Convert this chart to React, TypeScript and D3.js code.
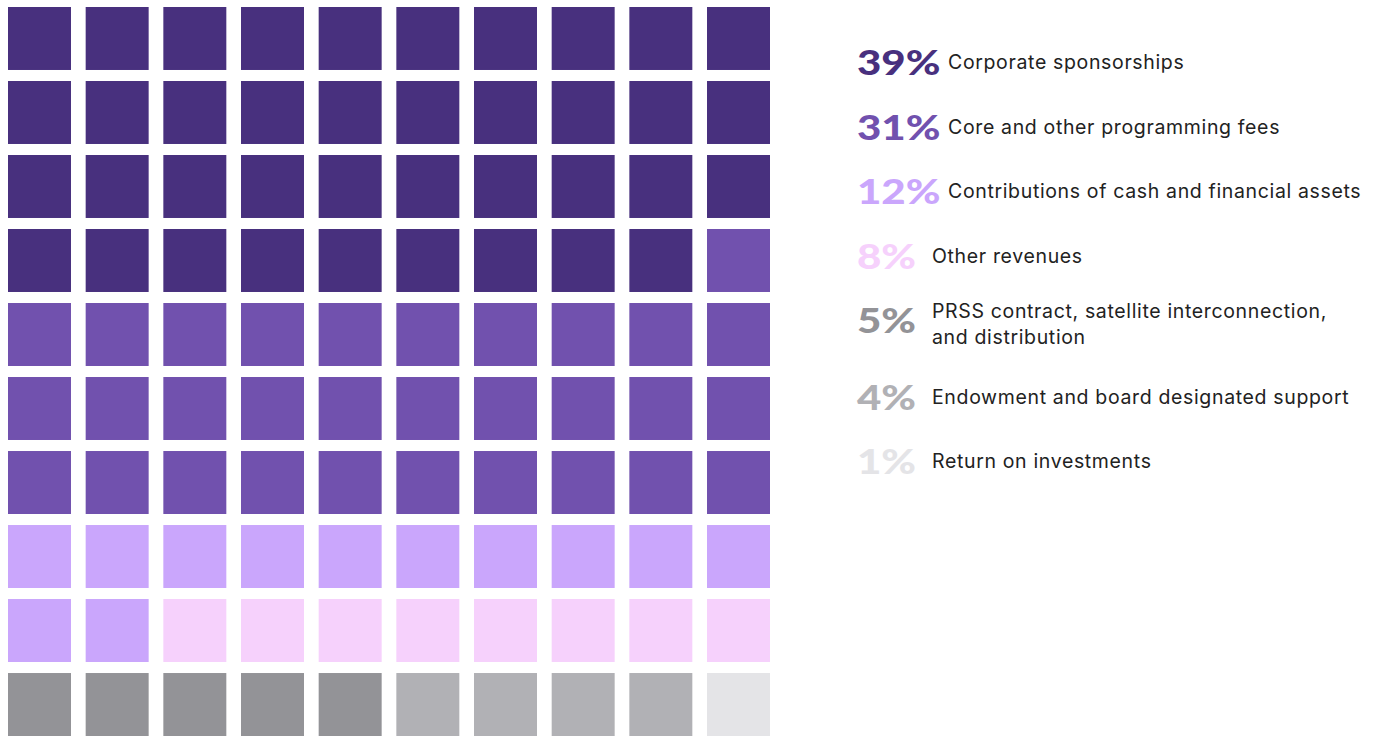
import React from "react";
import * as d3 from "d3";

const categories = [
  "Corporate sponsorships",
  "Core and other programming fees",
  "Contributions of cash and financial assets",
  "Other revenues",
  "PRSS contract, satellite interconnection, and distribution",
  "Endowment and board designated support",
  "Return on investments",
];
const values = [39, 31, 12, 8, 5, 4, 1];
const labelLines = [
  ["Corporate sponsorships"],
  ["Core and other programming fees"],
  ["Contributions of cash and financial assets"],
  ["Other revenues"],
  ["PRSS contract, satellite interconnection,", "and distribution"],
  ["Endowment and board designated support"],
  ["Return on investments"],
];
const colors = ["#48307e", "#7151ae", "#caa6fc", "#f6d1fc", "#939397", "#b1b1b5", "#e4e4e7"];
const gridIdx = d3.range(10);

export default function App() {
  const W = 1377, H = 736;
  const x = d3.scaleBand<number>().domain(gridIdx).range([8, 770]).paddingInner(0.189).paddingOuter(0);
  const y = d3.scaleBand<number>().domain(gridIdx).range([7, 736]).paddingInner(0.149).paddingOuter(0);

  const cells: { i: number; c: number }[] = [];
  values.forEach((v, c) => {
    for (let k = 0; k < v; k++) cells.push({ i: cells.length, c });
  });

  let extra = 0;
  const legend = values.map((v, i) => {
    const lines = labelLines[i].length;
    const base = 69 + i * 64.5 + extra;
    const first = lines > 1 ? base - 9 : base;
    if (lines > 1) extra += 12;
    return { v, i, first, pctY: base + 6, lines: labelLines[i] };
  });

  return (
    <div style={{ position: "fixed", left: 0, top: 0, width: W, height: H, background: "#fff" }}>
      <svg width={W} height={H} style={{ display: "block" }}>
        {cells.map((d) => (
          <rect
            key={d.i}
            x={x(d.i % 10)}
            y={y(Math.floor(d.i / 10))}
            width={x.bandwidth()}
            height={y.bandwidth()}
            fill={colors[d.c]}
          />
        ))}
        {legend.map((d) => {
          const lx = 857 + (d.v >= 10 ? 91 : 75);
          return (
            <g key={d.i}>
              <text
                transform={`translate(857,${d.pctY}) scale(1.2,1)`}
                fill={colors[d.i]}
                style={{ fontFamily: "Lato", fontWeight: 900, fontSize: 35 }}
              >
                {d.v}%
              </text>
              <text
                x={lx}
                y={d.first}
                fill="#222"
                style={{ fontFamily: "Inter", fontSize: 19.5, letterSpacing: 0.65 }}
              >
                {d.lines.map((l, j) => (
                  <tspan key={j} x={lx} dy={j === 0 ? 0 : 26}>
                    {l}
                  </tspan>
                ))}
              </text>
            </g>
          );
        })}
      </svg>
    </div>
  );
}
